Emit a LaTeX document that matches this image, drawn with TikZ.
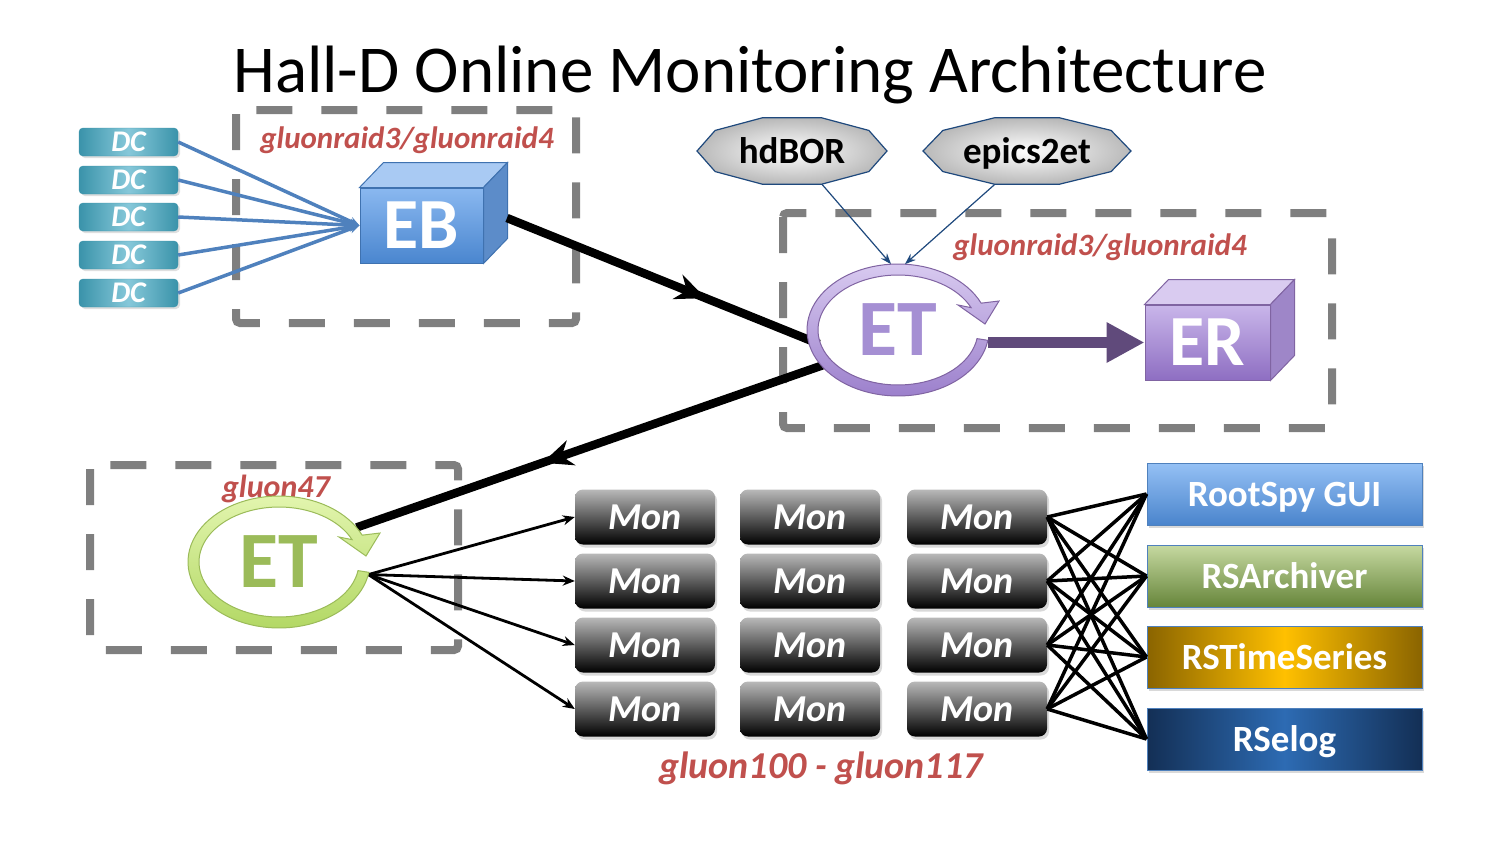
\documentclass[tikz,border=0pt]{standalone}
\usepackage{fontspec}
\setmainfont{Carlito}
\usetikzlibrary{arrows.meta,shapes.geometric,decorations.markings,shadows,calc}
\definecolor{dashgray}{HTML}{7F7F7F}
\definecolor{lblred}{HTML}{C0504D}
\definecolor{dcdark}{HTML}{3A93AA}
\definecolor{dclight}{HTML}{86C8D9}
\definecolor{dcline}{HTML}{4F81BD}
\definecolor{octborder}{HTML}{1F497D}
\definecolor{ebtop}{HTML}{8AB8F0}
\definecolor{ebbot}{HTML}{4A86CF}
\definecolor{ebtopface}{HTML}{A9CAF3}
\definecolor{ebside}{HTML}{5C8CC9}
\definecolor{ebborder}{HTML}{3F72B0}
\definecolor{ertop}{HTML}{C9B6EA}
\definecolor{erbot}{HTML}{8E6EC2}
\definecolor{ertopface}{HTML}{D9CBF0}
\definecolor{erside}{HTML}{9E86C8}
\definecolor{erborder}{HTML}{8064A2}
\definecolor{erarrow}{HTML}{604A7B}
\definecolor{etptext}{HTML}{A58FD3}
\definecolor{etpringtop}{HTML}{D8CAF0}
\definecolor{etpringbot}{HTML}{9C80CC}
\definecolor{etgtext}{HTML}{9BBB59}
\definecolor{etgringtop}{HTML}{E2F5AE}
\definecolor{etgringbot}{HTML}{B3D865}
\definecolor{rsatop}{HTML}{95C1F5}
\definecolor{rsabot}{HTML}{4A84CC}
\definecolor{rsaborder}{HTML}{4F81BD}
\definecolor{rsbtop}{HTML}{C6D9A1}
\definecolor{rsbbot}{HTML}{66853A}
\definecolor{rsbborder}{HTML}{4F81BD}
\definecolor{rscedge}{HTML}{8A6400}
\definecolor{rscmid}{HTML}{FFC000}
\definecolor{rsdedge}{HTML}{132F55}
\definecolor{rsdmid}{HTML}{2D6BB3}
\newcommand{\myring}[3]{%
  \shade[#3] plot[domain=9:336,samples=80] ({#1+91*cos(\x)},{#2+66*sin(\x)})
   -- ({#1+101},{#2-29})
   -- ({#1+87},{#2-6})
   -- ({#1+60},{#2-25})
   -- plot[domain=336:9,samples=80] ({#1+80*cos(\x)},{#2+55*sin(\x)}) -- cycle;}
\begin{document}
\begin{tikzpicture}[x=1pt,y=-1pt,
  dashbox/.style={draw=dashgray,line width=8pt,dash pattern=on 36pt off 29pt,rounded corners=4pt},
  lbl/.style={text=lblred,font=\fontsize{31}{33}\selectfont\bfseries\itshape,inner sep=0pt},
  dcbox/.style={rectangle,rounded corners=4pt,minimum width=99,minimum height=28,
     left color=dcdark,right color=dcdark,middle color=dclight,draw=dcdark,
     font=\fontsize{30}{30}\selectfont\bfseries\itshape,text=white,inner sep=0pt,
     text height=19pt,text depth=0pt,
     drop shadow={opacity=0.25,shadow xshift=2pt,shadow yshift=-2pt}},
  dcarrow/.style={draw=dcline,line width=3.5pt,-{Stealth[length=10pt,width=9pt]}},
  cubeface/.style={rectangle,minimum width=123,minimum height=75,inner sep=0pt,
     font=\fontsize{72}{72}\selectfont\bfseries,text=white,line width=1pt},
  octnode/.style={ellipse,inner sep=0pt,outer sep=0pt,minimum height=70,
     font=\fontsize{37}{38}\selectfont\bfseries,text height=25pt,text depth=0pt},
  octshape/.style={inner color=white,outer color=gray!55,draw=octborder,line width=1.2pt},
  octarrow/.style={draw=octborder,line width=1.2pt,-{Stealth[length=11pt,width=8pt]}},
  etnode/.style={ellipse,minimum width=182,minimum height=132,inner sep=0pt,outer sep=0pt,
     font=\fontsize{80}{80}\selectfont\bfseries},
  bigline/.style={draw=black,line width=8.5pt},
  midarrow/.style={postaction={decorate},decoration={markings,
     mark=at position #1 with {\arrow{Stealth[length=30pt,width=26pt]}}}},
  thinarrow/.style={draw=black,line width=2.8pt,-{Stealth[length=12pt,width=10pt]}},
  mon/.style={rectangle,rounded corners=8pt,minimum width=140,minimum height=55,inner sep=0pt,
     top color=gray!55,bottom color=black,font=\fontsize{38}{38}\selectfont\bfseries\itshape,
     text=white,text height=24pt,text depth=0pt,
     drop shadow={opacity=0.3,shadow xshift=2pt,shadow yshift=-3pt}},
  rsbox/.style={rectangle,minimum width=275,minimum height=62,inner sep=0pt,line width=1pt,
     font=\fontsize{37}{40}\selectfont\bfseries,text=white,text height=24pt,text depth=0pt,
     drop shadow={opacity=0.3,shadow xshift=2pt,shadow yshift=-3pt}},
  meshline/.style={draw=black,line width=3.5pt}
]
\useasboundingbox (0,0) rectangle (1500,844);

% title
\node[anchor=base,font=\fontsize{67}{80}\selectfont,inner sep=0pt] (title) at (750,92) {Hall-D Online Monitoring Architecture};

% dashed boxes
\draw[dashbox] (236,110) rectangle (576,323);
\draw[dashbox] (783,213) rectangle (1332,428);
\draw[dashbox] (90,465) rectangle (458,650);

% labels
\node[lbl] (lab1) at (407,140) {gluonraid3/gluonraid4};
\node[lbl] (lab2) at (1100,247) {gluonraid3/gluonraid4};
\node[lbl,font=\fontsize{32}{33}\selectfont\bfseries\itshape] (lab3) at (276,489) {gluon47};
\node[lbl,font=\fontsize{38}{40}\selectfont\bfseries\itshape] (lab4) at (821,768) {gluon100 - gluon117};

% DC boxes
\foreach \i/\y in {1/142,2/180,3/217,4/255,5/293}
  \node[dcbox] (dc\i) at (128.5,\y) {DC};

% EB cube
\node[cubeface,top color=ebtop,bottom color=ebbot,draw=ebborder] (eb) at (421.5,225.5) {EB};
\filldraw[fill=ebtopface,draw=ebborder,line width=1pt] (eb.north west) -- ++(24,-25) -- ($(eb.north east)+(24,-25)$) -- (eb.north east) -- cycle;
\filldraw[fill=ebside,draw=ebborder,line width=1pt] (eb.north east) -- ++(24,-25) -- ($(eb.south east)+(24,-25)$) -- (eb.south east) -- cycle;
\coordinate (ebout) at (507,218);

% ER cube
\node[cubeface,top color=ertop,bottom color=erbot,draw=erborder,minimum width=125] (er) at (1207.5,342.5) {ER};
\filldraw[fill=ertopface,draw=erborder,line width=1pt] (er.north west) -- ++(24,-25) -- ($(er.north east)+(24,-25)$) -- (er.north east) -- cycle;
\filldraw[fill=erside,draw=erborder,line width=1pt] (er.north east) -- ++(24,-25) -- ($(er.south east)+(24,-25)$) -- (er.south east) -- cycle;

% octagons
\shade[octshape] plot[samples at={0,36,...,324}] ({792+95*cos(\x)},{151+35*sin(\x)}) -- cycle;
\node[octnode,minimum width=190] (hdbor) at (792,151) {hdBOR};
\shade[octshape] plot[samples at={0,36,...,324}] ({1027+104*cos(\x)},{151+35*sin(\x)}) -- cycle;
\node[octnode,minimum width=208] (epics) at (1027,151) {epics2et};

% ET nodes
\node[etnode,text=etptext] (etp) at (898,330) {ET};
\node[etnode,text=etgtext] (etg) at (279,562) {ET};

% Mon boxes
\foreach \r/\y in {1/517,2/581,3/645,4/709}
  \foreach \c/\x in {1/645,2/810,3/977}
    \node[mon] (m\r\c) at (\x,\y) {Mon};

% right boxes
\node[rsbox,top color=rsatop,bottom color=rsabot,draw=rsaborder] (rs1) at (1284.5,494) {RootSpy GUI};
\node[rsbox,top color=rsbtop,bottom color=rsbbot,draw=rsbborder] (rs2) at (1284.5,576) {RSArchiver};
\node[rsbox,left color=rscedge,right color=rscedge,middle color=rscmid,draw=rsbborder] (rs3) at (1284.5,657) {RSTimeSeries};
\node[rsbox,left color=rsdedge,right color=rsdedge,middle color=rsdmid,draw=rsbborder] (rs4) at (1284.5,739) {RSelog};

% connectors
\foreach \i in {1,...,5}
  \draw[dcarrow] (dc\i.east) -- (eb.west);
\draw[octarrow] (hdbor.-48.6) -- (etp.96);
\draw[octarrow] (epics.226.1) -- (etp.84);
\draw[bigline,midarrow=0.66,shorten >=-12pt] (ebout) -- (etp.186);
\draw[bigline,midarrow=0.6,shorten <=-6pt] (etp.205) -- (etg.24);
\draw[draw=erarrow,line width=11pt,-{Triangle[length=38pt,width=38pt]}] (etp.-6 |- er.west) -- (er.west);
\foreach \r in {1,...,4}
  \draw[thinarrow] (etg.-8) -- (m\r1.west);
\foreach \r in {1,...,4}
  \foreach \k in {1,...,4}
    \draw[meshline] (m\r3.east) -- (rs\k.west);

% circular arrows
\myring{898}{330}{top color=etpringtop,bottom color=etpringbot,draw=erborder,line width=1pt}
\myring{279}{562}{top color=etgringtop,bottom color=etgringbot,draw=etgtext,line width=1pt}
\end{tikzpicture}
\end{document}
